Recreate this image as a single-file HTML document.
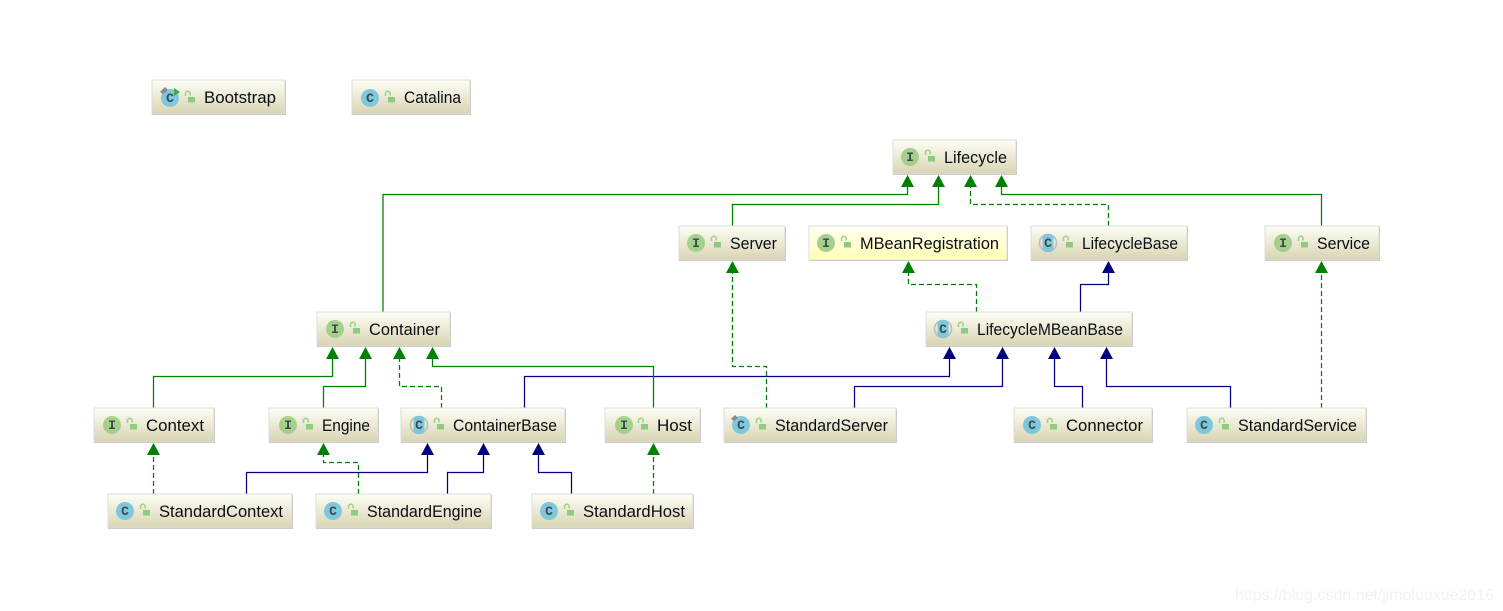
<!DOCTYPE html>
<html><head><meta charset="utf-8"><style>
html,body{margin:0;padding:0;background:#fff;width:1503px;height:611px;overflow:hidden}
svg{display:block}
.n{font:17px "Liberation Sans",sans-serif;fill:#0c0c14}
.ic{font:bold 13px "Liberation Mono",monospace;fill:#3c4a50;text-anchor:middle}
.wm{font:16px "Liberation Sans",sans-serif;fill:#f2f2f2}
.g{fill:none;stroke:#008000;stroke-width:1.25}
.b{fill:none;stroke:#000080;stroke-width:1.25}
.d{fill:none;stroke:#008000;stroke-width:1.25;stroke-dasharray:5 3}
</style></head><body>
<svg width="1503" height="611" viewBox="0 0 1503 611" xmlns="http://www.w3.org/2000/svg">
<defs>
<linearGradient id="bg" x1="0" y1="0" x2="0" y2="1"><stop offset="0" stop-color="#fefef6"/><stop offset="1" stop-color="#d8d4b2"/></linearGradient>
<linearGradient id="by" x1="0" y1="0" x2="0" y2="1"><stop offset="0" stop-color="#fffff4"/><stop offset="1" stop-color="#ffffb4"/></linearGradient>
<g id="lock"><path d="M-4.500 -2v-2.500a2.300 2.300 0 0 1 4.600 0v2" fill="none" stroke="#9ad08a" stroke-width="1.500"/><rect x="-2" y="-1" width="7" height="5.500" fill="#8fcb7c"/></g>
<g id="I"><circle r="9" fill="#a5d08c"/></g>
<g id="C"><circle r="9" fill="#7fc8dc"/></g>
<g id="A"><circle r="8.500" fill="none" stroke="#bdbdbd" stroke-width="1.600"/><rect x="-5.500" y="-9" width="11" height="18" rx="4" fill="#7fc8dc"/></g>
<path id="ag" d="M0 0l-6.500 12h13z" fill="#008000"/>
<path id="ab" d="M0 0l-6.500 12h13z" fill="#000080"/>
</defs>

<!-- connectors -->
<path class="g" d="M383 312V194.500H907.500V186"/>
<path class="g" d="M732.500 226V204.500H938.500V186"/>
<path class="d" d="M1108.500 226V204.500H970.500V186"/>
<path class="g" d="M1321.500 226V194.500H1001.500V186"/>
<path class="d" d="M976.500 312V284.500H908.500V272"/>
<path class="b" d="M1080.500 312V284.500H1108.500V272"/>
<path class="d" d="M766.500 408V366.500H732.500V272"/>
<path class="d" d="M1321.500 408V272"/>
<path class="b" d="M524.500 408V376.500H949.500V358"/>
<path class="b" d="M854.500 408V386.500H1002.500V358"/>
<path class="b" d="M1082.500 408V386.500H1054.500V358"/>
<path class="b" d="M1230.500 408V386.500H1106.500V358"/>
<path class="g" d="M153.500 408V376.500H332.500V358"/>
<path class="g" d="M323.500 408V386.500H365.500V358"/>
<path class="d" d="M441.500 408V386.500H399.500V358"/>
<path class="g" d="M653.500 408V366.500H432.500V358"/>
<path class="d" d="M358.500 494V462.500H323.500V454"/>
<path class="b" d="M246.500 494V472.500H427.500V454"/>
<path class="b" d="M447.500 494V472.500H483.500V454"/>
<path class="b" d="M571.500 494V472.500H538.500V454"/>
<path class="d" d="M153.500 494V454"/>
<path class="d" d="M653.500 494V454"/>

<!-- arrowheads -->
<use href="#ag" x="907.500" y="175"/><use href="#ag" x="938.500" y="175"/><use href="#ag" x="970.500" y="175"/><use href="#ag" x="1001.500" y="175"/>
<use href="#ag" x="732.500" y="261"/><use href="#ag" x="908.500" y="261"/><use href="#ab" x="1108.500" y="261"/><use href="#ag" x="1321.500" y="261"/>
<use href="#ag" x="332.500" y="347"/><use href="#ag" x="365.500" y="347"/><use href="#ag" x="399.500" y="347"/><use href="#ag" x="432.500" y="347"/>
<use href="#ab" x="949.500" y="347"/><use href="#ab" x="1002.500" y="347"/><use href="#ab" x="1054.500" y="347"/><use href="#ab" x="1106.500" y="347"/>
<use href="#ag" x="153.500" y="443"/><use href="#ag" x="323.500" y="443"/><use href="#ab" x="427.500" y="443"/><use href="#ab" x="483.500" y="443"/><use href="#ab" x="538.500" y="443"/><use href="#ag" x="653.500" y="443"/>

<!-- nodes -->
<g id="nodes">
<rect x="152" y="81" width="134" height="34" fill="#bdbdbd"/><rect x="152" y="80" width="133" height="34" fill="url(#bg)" stroke="#dcdcdc"/>
<use href="#C" x="170" y="98"/><text class="ic" x="170" y="102">C</text><path d="M160 92l5-5 3 3-5 4z" fill="#8a8a8a"/><path d="M174 88l6 4-6 4z" fill="#3fa83f"/><use href="#lock" x="190" y="98"/>
<text class="n" x="204" y="103" textLength="72" lengthAdjust="spacingAndGlyphs">Bootstrap</text>

<rect x="352" y="81" width="119" height="34" fill="#bdbdbd"/><rect x="352" y="80" width="118" height="34" fill="url(#bg)" stroke="#dcdcdc"/>
<use href="#C" x="370" y="98"/><text class="ic" x="370" y="102">C</text><use href="#lock" x="390" y="98"/>
<text class="n" x="404" y="103" textLength="57" lengthAdjust="spacingAndGlyphs">Catalina</text>

<rect x="893" y="141" width="124" height="34" fill="#bdbdbd"/><rect x="893" y="140" width="123" height="34" fill="url(#bg)" stroke="#dcdcdc"/>
<use href="#I" x="910" y="157"/><text class="ic" x="910" y="161">I</text><use href="#lock" x="930" y="157"/>
<text class="n" x="944" y="163" textLength="63" lengthAdjust="spacingAndGlyphs">Lifecycle</text>

<rect x="679" y="227" width="107" height="34" fill="#bdbdbd"/><rect x="679" y="226" width="106" height="34" fill="url(#bg)" stroke="#dcdcdc"/>
<use href="#I" x="696" y="243"/><text class="ic" x="696" y="247">I</text><use href="#lock" x="716" y="243"/>
<text class="n" x="730" y="249" textLength="47" lengthAdjust="spacingAndGlyphs">Server</text>

<rect x="809" y="227" width="199" height="34" fill="#bdbdbd"/><rect x="809" y="226" width="198" height="34" fill="url(#by)" stroke="#dcdcdc"/>
<use href="#I" x="826" y="243"/><text class="ic" x="826" y="247">I</text><use href="#lock" x="846" y="243"/>
<text class="n" x="860" y="249" textLength="139" lengthAdjust="spacingAndGlyphs">MBeanRegistration</text>

<rect x="1031" y="227" width="157" height="34" fill="#bdbdbd"/><rect x="1031" y="226" width="156" height="34" fill="url(#bg)" stroke="#dcdcdc"/>
<use href="#A" x="1048" y="243"/><text class="ic" x="1048" y="247">C</text><use href="#lock" x="1068" y="243"/>
<text class="n" x="1082" y="249" textLength="96" lengthAdjust="spacingAndGlyphs">LifecycleBase</text>

<rect x="1265" y="227" width="115" height="34" fill="#bdbdbd"/><rect x="1265" y="226" width="114" height="34" fill="url(#bg)" stroke="#dcdcdc"/>
<use href="#I" x="1283" y="243"/><text class="ic" x="1283" y="247">I</text><use href="#lock" x="1303" y="243"/>
<text class="n" x="1317" y="249" textLength="53" lengthAdjust="spacingAndGlyphs">Service</text>

<rect x="317" y="313" width="134" height="34" fill="#bdbdbd"/><rect x="317" y="312" width="133" height="34" fill="url(#bg)" stroke="#dcdcdc"/>
<use href="#I" x="335" y="329"/><text class="ic" x="335" y="333">I</text><use href="#lock" x="355" y="329"/>
<text class="n" x="369" y="335" textLength="71" lengthAdjust="spacingAndGlyphs">Container</text>

<rect x="926" y="313" width="207" height="34" fill="#bdbdbd"/><rect x="926" y="312" width="206" height="34" fill="url(#bg)" stroke="#dcdcdc"/>
<use href="#A" x="943" y="329"/><text class="ic" x="943" y="333">C</text><use href="#lock" x="963" y="329"/>
<text class="n" x="977" y="335" textLength="146" lengthAdjust="spacingAndGlyphs">LifecycleMBeanBase</text>

<rect x="94" y="409" width="121" height="34" fill="#bdbdbd"/><rect x="94" y="408" width="120" height="34" fill="url(#bg)" stroke="#dcdcdc"/>
<use href="#I" x="112" y="425"/><text class="ic" x="112" y="429">I</text><use href="#lock" x="132" y="425"/>
<text class="n" x="146" y="431" textLength="58" lengthAdjust="spacingAndGlyphs">Context</text>

<rect x="269" y="409" width="110" height="34" fill="#bdbdbd"/><rect x="269" y="408" width="109" height="34" fill="url(#bg)" stroke="#dcdcdc"/>
<use href="#I" x="288" y="425"/><text class="ic" x="288" y="429">I</text><use href="#lock" x="308" y="425"/>
<text class="n" x="322" y="431" textLength="48" lengthAdjust="spacingAndGlyphs">Engine</text>

<rect x="401" y="409" width="165" height="34" fill="#bdbdbd"/><rect x="401" y="408" width="164" height="34" fill="url(#bg)" stroke="#dcdcdc"/>
<use href="#A" x="419" y="425"/><text class="ic" x="419" y="429">C</text><use href="#lock" x="439" y="425"/>
<text class="n" x="453" y="431" textLength="104" lengthAdjust="spacingAndGlyphs">ContainerBase</text>

<rect x="605" y="409" width="96" height="34" fill="#bdbdbd"/><rect x="605" y="408" width="95" height="34" fill="url(#bg)" stroke="#dcdcdc"/>
<use href="#I" x="624" y="425"/><text class="ic" x="624" y="429">I</text><use href="#lock" x="643" y="425"/>
<text class="n" x="657" y="431" textLength="35" lengthAdjust="spacingAndGlyphs">Host</text>

<rect x="724" y="409" width="173" height="34" fill="#bdbdbd"/><rect x="724" y="408" width="172" height="34" fill="url(#bg)" stroke="#dcdcdc"/>
<use href="#C" x="741" y="425"/><text class="ic" x="741" y="429">C</text><path d="M731 419l4-4 3 3-4 3z" fill="#8a8a8a"/><use href="#lock" x="761" y="425"/>
<text class="n" x="775" y="431" textLength="113" lengthAdjust="spacingAndGlyphs">StandardServer</text>

<rect x="1014" y="409" width="139" height="34" fill="#bdbdbd"/><rect x="1014" y="408" width="138" height="34" fill="url(#bg)" stroke="#dcdcdc"/>
<use href="#C" x="1032" y="425"/><text class="ic" x="1032" y="429">C</text><use href="#lock" x="1052" y="425"/>
<text class="n" x="1066" y="431" textLength="77" lengthAdjust="spacingAndGlyphs">Connector</text>

<rect x="1187" y="409" width="180" height="34" fill="#bdbdbd"/><rect x="1187" y="408" width="179" height="34" fill="url(#bg)" stroke="#dcdcdc"/>
<use href="#C" x="1204" y="425"/><text class="ic" x="1204" y="429">C</text><use href="#lock" x="1224" y="425"/>
<text class="n" x="1238" y="431" textLength="119" lengthAdjust="spacingAndGlyphs">StandardService</text>

<rect x="108" y="495" width="185" height="34" fill="#bdbdbd"/><rect x="108" y="494" width="184" height="34" fill="url(#bg)" stroke="#dcdcdc"/>
<use href="#C" x="125" y="511"/><text class="ic" x="125" y="515">C</text><use href="#lock" x="145" y="511"/>
<text class="n" x="159" y="517" textLength="124" lengthAdjust="spacingAndGlyphs">StandardContext</text>

<rect x="316" y="495" width="176" height="34" fill="#bdbdbd"/><rect x="316" y="494" width="175" height="34" fill="url(#bg)" stroke="#dcdcdc"/>
<use href="#C" x="333" y="511"/><text class="ic" x="333" y="515">C</text><use href="#lock" x="353" y="511"/>
<text class="n" x="367" y="517" textLength="115" lengthAdjust="spacingAndGlyphs">StandardEngine</text>

<rect x="532" y="495" width="162" height="34" fill="#bdbdbd"/><rect x="532" y="494" width="161" height="34" fill="url(#bg)" stroke="#dcdcdc"/>
<use href="#C" x="549" y="511"/><text class="ic" x="549" y="515">C</text><use href="#lock" x="569" y="511"/>
<text class="n" x="583" y="517" textLength="102" lengthAdjust="spacingAndGlyphs">StandardHost</text>
</g>
<text class="wm" x="1235" y="600" textLength="259">https://blog.csdn.net/jimoluoxue2016</text>
</svg>
</body></html>
